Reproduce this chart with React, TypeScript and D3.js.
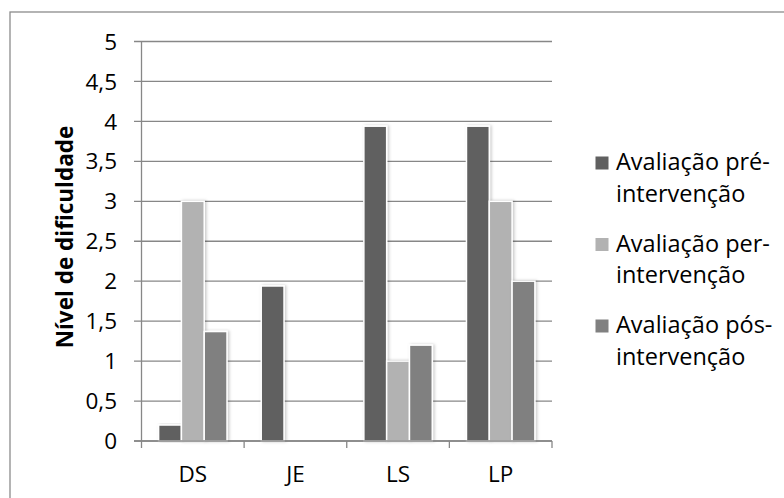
import React from "react";
import * as d3 from "d3";

// Categories, series and values
const categories = ["DS", "JE", "LS", "LP"];
const seriesNames = [
  "Avaliação pré-intervenção",
  "Avaliação per-intervenção",
  "Avaliação pós-intervenção",
];
const legendLines = [
  ["Avaliação pré-", "intervenção"],
  ["Avaliação per-", "intervenção"],
  ["Avaliação pós-", "intervenção"],
];
const preValues = [0.2, 1.94, 3.94, 3.94];
const perValues = [3, 0, 1, 3];
const posValues = [1.37, 0, 1.2, 2];
const yTicks = [0, 0.5, 1, 1.5, 2, 2.5, 3, 3.5, 4, 4.5, 5];
const seriesColors = ["#606060", "#b2b2b2", "#808080"];

const W = 784;
const H = 498;
const FONT = "'Open Sans', 'Noto Sans', sans-serif";
const GRID = "#878787";

export default function App() {
  const seriesValues = [preValues, perValues, posValues];

  const x = d3.scaleBand<string>().domain(categories).range([141.5, 552]).paddingInner(0).paddingOuter(0);
  const y = d3.scaleLinear().domain([0, 5]).range([441, 41.5]);
  const groupWidth = (x.bandwidth() * 3) / 4.5;
  const xs = d3
    .scaleBand<string>()
    .domain(seriesNames)
    .range([(x.bandwidth() - groupWidth) / 2, (x.bandwidth() + groupWidth) / 2]);

  const fmt = (v: number) => String(v).replace(".", ",");

  return (
    <svg width={W} height={H} style={{ position: "absolute", left: 0, top: 0 }} fontFamily={FONT}>
      <defs>
        <filter id="barShadow" x="-30%" y="-10%" width="160%" height="120%">
          <feDropShadow dx="1.5" dy="0" stdDeviation="1.6" floodColor="#000" floodOpacity="0.22" />
        </filter>
      </defs>
      <rect x={0} y={0} width={W} height={H} fill="#fff" />
      {/* outer chart frame */}
      <rect x={10} y={12} width={800} height={520} fill="none" stroke="#8c8c8c" strokeWidth={1.3} />

      {/* horizontal gridlines with outer ticks */}
      {yTicks.map((t) => (
        <line key={"g" + t} x1={134} x2={552} y1={y(t)} y2={y(t)} stroke={GRID} strokeWidth={1.3} />
      ))}
      {/* y axis */}
      <line x1={141.5} x2={141.5} y1={y(5)} y2={y(0)} stroke={GRID} strokeWidth={1.3} />
      {/* x axis ticks */}
      {[...categories.map((c) => x(c) as number), 552].map((px, i) => (
        <line key={"xt" + i} x1={px} x2={px} y1={y(0)} y2={y(0) + 7} stroke={GRID} strokeWidth={1.3} />
      ))}

      {/* bars */}
      {categories.map((c, ci) => (
        <g key={c} transform={`translate(${x(c)},0)`}>
          {seriesNames.map((s, si) => {
            const v = seriesValues[si][ci];
            if (v <= 0) return null;
            return (
              <rect
                key={s}
                x={xs(s)}
                y={y(v)}
                width={xs.bandwidth()}
                height={y(0) - y(v)}
                fill={seriesColors[si]}
                stroke="#fff"
                strokeWidth={1.5}
                filter="url(#barShadow)"
              />
            );
          })}
        </g>
      ))}
      {/* redraw baseline over bars */}
      <line x1={134} x2={552} y1={y(0)} y2={y(0)} stroke={GRID} strokeWidth={1.3} />

      {/* y tick labels */}
      {yTicks.map((t) => (
        <text key={"yl" + t} x={117} y={y(t)} dy="0.36em" textAnchor="end" fontSize={22.5} fill="#000">
          {fmt(t)}
        </text>
      ))}

      {/* x labels */}
      {categories.map((c) => (
        <text key={"xl" + c} x={(x(c) as number) + x.bandwidth() / 2} y={482} textAnchor="middle" fontSize={22.5} fill="#000">
          {c}
        </text>
      ))}

      {/* y axis title */}
      <text
        transform={`translate(73,237) rotate(-90)`}
        textAnchor="middle"
        fontSize={22.5}
        fontWeight="bold"
        fill="#000"
      >
        Nível de dificuldade
      </text>

      {/* legend */}
      {legendLines.map((lines, i) => {
        const base = 170 + i * 81.5;
        return (
          <g key={"lg" + i}>
            <rect x={595.5} y={base - 13.5} width={13} height={13} fill={seriesColors[i]} />
            {lines.map((ln, li) => (
              <text key={li} x={616} y={base + li * 31.5} fontSize={23.5} fill="#000">
                {ln}
              </text>
            ))}
          </g>
        );
      })}
    </svg>
  );
}
